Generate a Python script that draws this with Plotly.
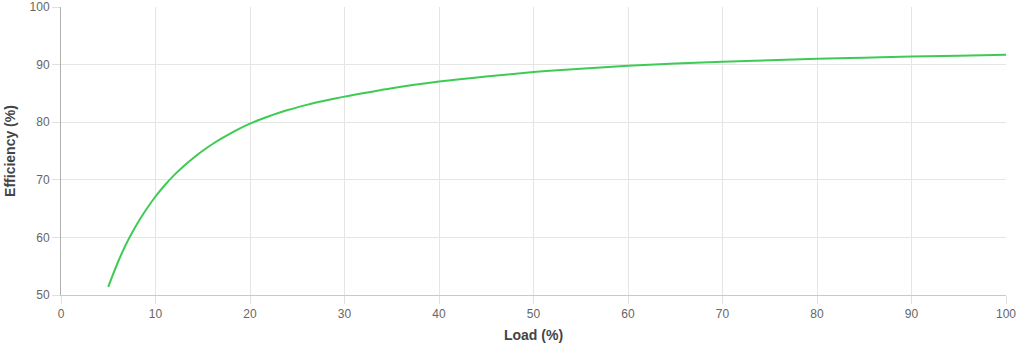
import plotly.graph_objects as go

load_pct = [5, 6, 7, 8, 9, 10, 11, 12, 13, 14, 15, 16, 17, 18, 19, 20,
            21, 22, 23, 24, 25, 26, 27, 28, 29, 30,
            35, 40, 45, 50, 55, 60, 65, 70, 75, 80, 85, 90, 95, 100]
efficiency_pct = [51.4, 55.6, 59.2, 62.2, 64.8, 67.1, 69.1, 70.85, 72.4, 73.8,
                  75.05, 76.17, 77.19, 78.12, 78.97, 79.74, 80.42, 81.04, 81.6, 82.11,
                  82.58, 83.01, 83.41, 83.78, 84.12, 84.44,
                  85.9, 87.05, 87.95, 88.7, 89.3, 89.8, 90.2, 90.5, 90.75, 91.0,
                  91.2, 91.4, 91.55, 91.7]

x_ticks = [0, 10, 20, 30, 40, 50, 60, 70, 80, 90, 100]
y_ticks = [50, 60, 70, 80, 90, 100]

FONT = "Liberation Sans, Arial, Helvetica, sans-serif"

fig = go.Figure()
fig.add_trace(go.Scatter(
    x=load_pct, y=efficiency_pct, mode="lines",
    line=dict(color="#3ecb55", width=2, shape="spline", smoothing=1.0),
    showlegend=False, hoverinfo="x+y",
))

fig.update_layout(
    width=1021, height=350,
    margin=dict(l=61, r=15, t=7, b=55),
    paper_bgcolor="white", plot_bgcolor="white",
    font=dict(family=FONT, size=12, color="#666"),
)
fig.update_xaxes(
    range=[0, 100], tickvals=x_ticks, ticktext=[str(v) for v in x_ticks],
    showgrid=True, gridcolor="#e5e5e5", gridwidth=1,
    showline=True, linecolor="#c8c8c8", linewidth=1,
    ticks="outside", ticklen=8, tickcolor="#e0e0e0",
    zeroline=False, automargin=False,
    title=dict(text="<b>Load (%)</b>", font=dict(family=FONT, size=14, color="#444"), standoff=9),
)
fig.update_yaxes(
    range=[50, 100], tickvals=y_ticks, ticktext=[str(v) for v in y_ticks],
    showgrid=True, gridcolor="#e5e5e5", gridwidth=1,
    showline=True, linecolor="#b0b0b0", linewidth=1,
    ticks="outside", ticklen=8, tickcolor="#e0e0e0",
    zeroline=False, automargin=False,
    title=dict(text="<b>Efficiency (%)</b>", font=dict(family=FONT, size=14, color="#444"), standoff=10),
)

fig.write_html("out.html")
